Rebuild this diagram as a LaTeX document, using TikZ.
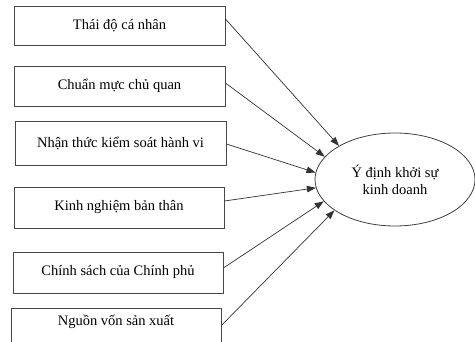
\documentclass[tikz,border=0pt]{standalone}
\usepackage{fontspec}
\setmainfont{Liberation Serif}
\usetikzlibrary{shapes.geometric,arrows.meta}
\begin{document}
\begin{tikzpicture}[x=1pt,y=-1pt,
  every node/.style={font=\fontsize{14.5}{17}\selectfont},
  boxnode/.style={draw=black!72,line width=0.9pt,rectangle,inner sep=0pt,minimum width=#1},
  boxnode/.default=211,
  oval/.style={draw=black!75,line width=0.8pt,ellipse,inner sep=0pt,minimum width=160,minimum height=93,align=center},
  conn/.style={draw=black!80,line width=0.7pt,-{Triangle[length=9pt,width=6.5pt]}}]
\useasboundingbox (0,0) rectangle (475,342);
\fill[white] (0,0) rectangle (475,342);
\node[boxnode,minimum height=39] (b1) at (119.5,25.5) {Thái độ cá nhân};
\node[boxnode,minimum height=40] (b2) at (119.5,86) {Chuẩn mực chủ quan};
\node[boxnode,minimum height=44] (b3) at (120.5,143) {Nhận thức kiểm soát hành vi};
\node[boxnode=210,minimum height=41] (b4) at (119,207.5) {Kinh nghiệm bản thân};
\node[boxnode=210,minimum height=41] (b5) at (118,272.5) {Chính sách của Chính phủ};
\node[boxnode=210,minimum height=44,anchor=north] (b6) at (116,308) {};
\node (b6t) at (116,322) {Nguồn vốn sản xuất};
\node[oval] (e) at (395,179.5) {Ý định khởi sự\\kinh doanh};
\draw[conn] ([yshift=6.5pt]b1.east) -- (e.149);
\draw[conn] ([yshift=3pt]b2.east) -- (e.162);
\draw[conn] ([yshift=-1pt]b3.east) -- (e.175);
\draw[conn] ([yshift=6.5pt]b4.east) -- (e.186);
\draw[conn] ([yshift=4.5pt]b5.east) -- (e.197);
\draw[conn] ([yshift=5pt]b6.east) -- (e.207);
\end{tikzpicture}
\end{document}
